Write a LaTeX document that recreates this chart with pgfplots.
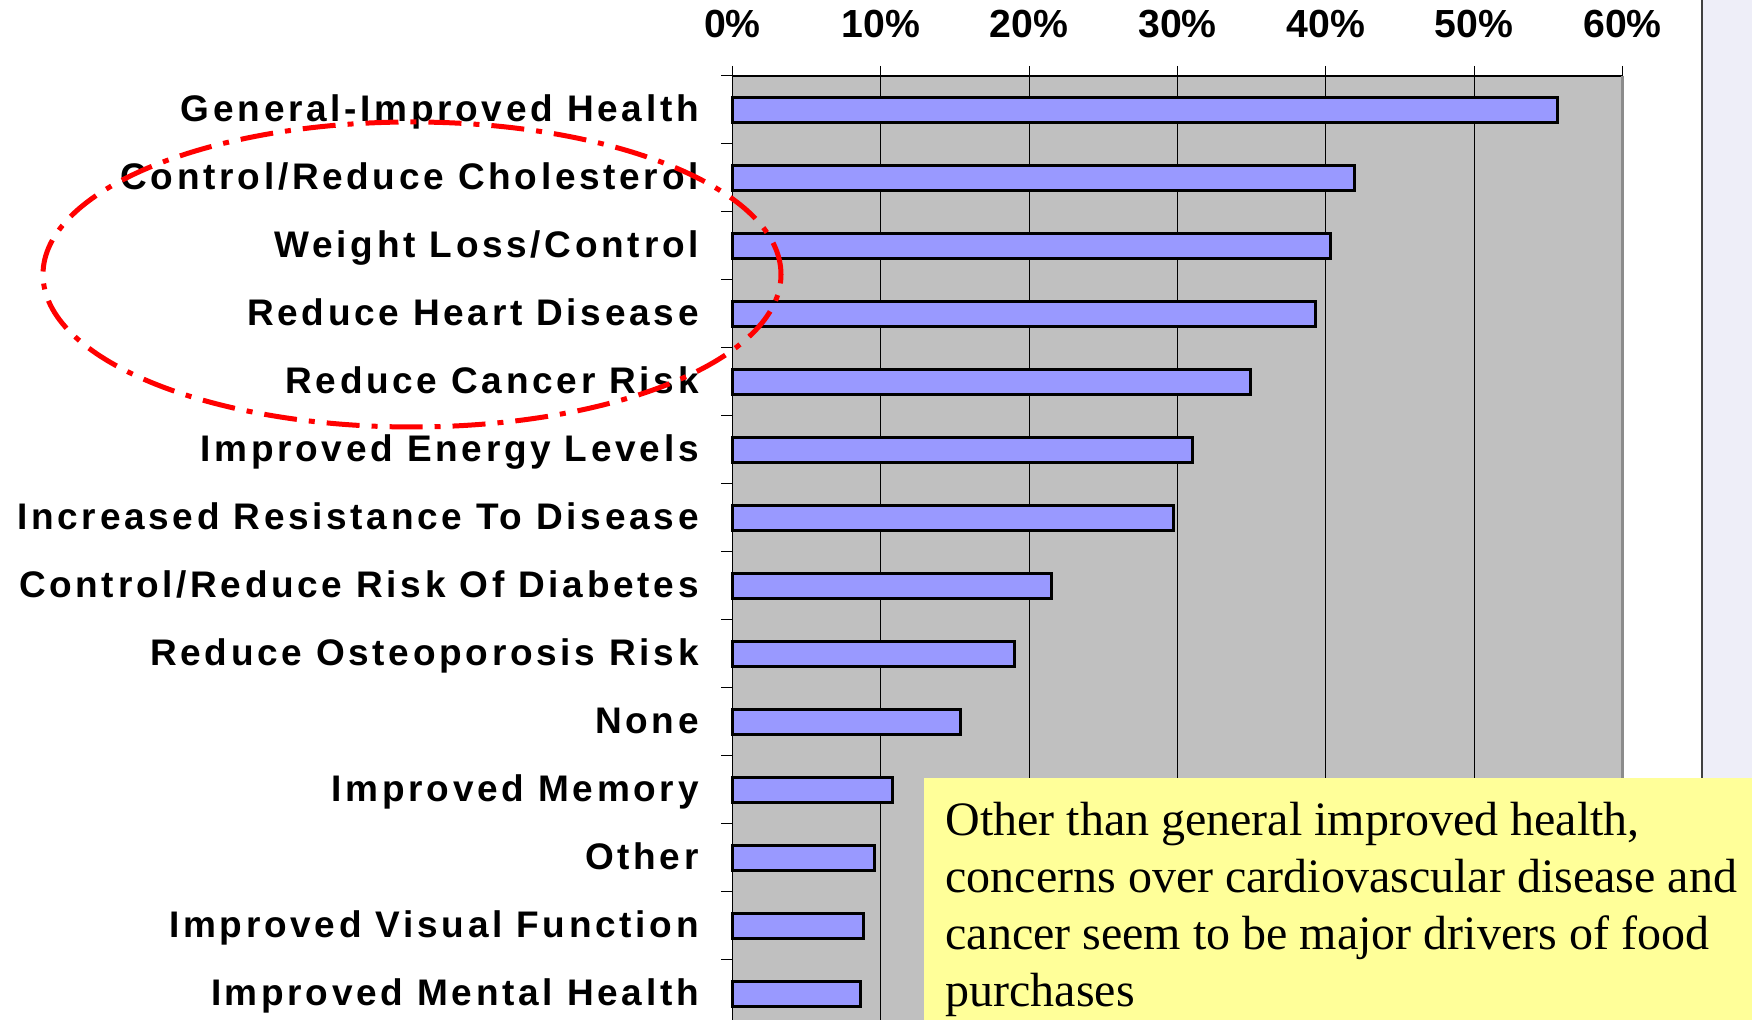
\documentclass[border=0pt]{standalone}
\usepackage{pgfplots}
\pgfplotsset{compat=1.18}
\usepackage{fontspec}
\setmainfont{Liberation Serif}
\newfontfamily\labfont[LetterSpace=10]{Liberation Sans}
\newfontfamily\tickfont{Liberation Sans}
\definecolor{plotgray}{HTML}{C0C0C0}
\definecolor{barblue}{HTML}{9999FF}
\definecolor{boxyellow}{HTML}{FFFF99}
\definecolor{panel}{HTML}{EEEEF8}
\definecolor{edgegray}{HTML}{8C8C8C}
\begin{document}
\begin{tikzpicture}[x=1pt,y=1pt]
\path[use as bounding box] (0,0) rectangle (876,510);
\fill[panel] (851,-10) rectangle (890,520);
\draw[black!75, line width=0.6pt] (851,-10) -- (851,520);
\begin{axis}[
  at={(366.25pt,-4pt)}, anchor=south west,
  scale only axis, width=445pt, height=476pt,
  xbar, bar width=12.75pt,
  xmin=0, xmax=60, ymin=-0.5, ymax=13.5, y dir=reverse,
  xtick={0,10,20,30,40,50,60},
  xticklabels={0\%,10\%,20\%,30\%,40\%,50\%,60\%},
  xticklabel pos=upper, xtick pos=upper,
  ytick={0,1,2,3,4,5,6,7,8,9,10,11,12,13},
  yticklabels={General-Improved Health,Control/Reduce Cholesterol,Weight Loss/Control,Reduce Heart Disease,Reduce Cancer Risk,Improved Energy Levels,Increased Resistance To Disease,Control/Reduce Risk Of Diabetes,Reduce Osteoporosis Risk,None,Improved Memory,Other,Improved Visual Function,Improved Mental Health},
  ytick pos=left,
  minor ytick={-0.5,0.5,1.5,2.5,3.5,4.5,5.5,6.5,7.5,8.5,9.5,10.5,11.5,12.5,13.5},
  tick align=outside,
  major tick length=5pt, minor tick length=5.5pt,
  major y tick style={draw=none},
  minor y tick style={black, line width=0.5pt},
  major x tick style={black, line width=0.5pt},
  xmajorgrids, major x grid style={black, line width=0.5pt},
  axis background/.style={fill=plotgray},
  axis line style={black, line width=0.6pt},
  xticklabel style={font=\tickfont\bfseries\fontsize{19.6}{19.6}\selectfont, anchor=base, yshift=14.2pt},
  yticklabel style={font=\labfont\bfseries\fontsize{18.5}{18.5}\selectfont, anchor=base east, inner sep=0pt, yshift=-5.9pt, xshift=-11.7pt},
  clip=false,
]
\addplot[fill=barblue, draw=black, line width=1.5pt] coordinates {
(55.6,0) (41.9,1) (40.3,2) (39.3,3) (34.9,4) (31.0,5) (29.7,6)
(21.5,7) (19.0,8) (15.4,9) (10.8,10) (9.6,11) (8.8,12) (8.6,13)};
\draw[edgegray, line width=1.5pt] (rel axis cs:1,0) -- (rel axis cs:1,1);
\end{axis}
\draw[red, line width=2.5pt, dash pattern=on 16.5pt off 6pt on 3pt off 6pt] (206,372.75) ellipse [x radius=184.5, y radius=76.25];
\fill[boxyellow] (462,-10) rectangle (890,121);
\begin{scope}[every node/.style={anchor=base west, inner sep=0pt, font=\fontsize{24}{28.5}\selectfont}]
\node at (472.5,92) {Other than general improved health,};
\node at (472.5,63.5) {concerns over cardiovascular disease and};
\node at (472.5,35) {cancer seem to be major drivers of food};
\node at (472.5,6.5) {purchases};
\end{scope}
\end{tikzpicture}
\end{document}
